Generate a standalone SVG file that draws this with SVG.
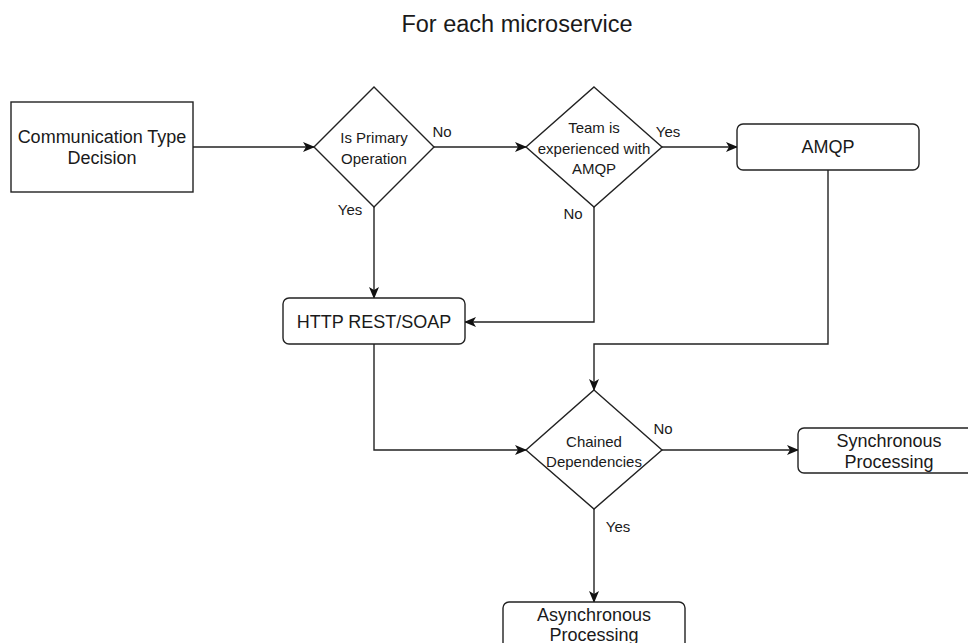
<svg xmlns="http://www.w3.org/2000/svg" width="968" height="643" viewBox="0 0 968 643">
  <defs>
    <marker id="arrow" viewBox="0 0 12 10" refX="11" refY="5" markerWidth="12" markerHeight="10" markerUnits="userSpaceOnUse" orient="auto">
      <path d="M0,0 L12,5 L0,10 L3,5 Z" fill="#111"/>
    </marker>
  </defs>
  <style>
    .shape { fill: #ffffff; stroke: #222; stroke-width: 1.4; }
    .edge { fill: none; stroke: #222; stroke-width: 1.4; marker-end: url(#arrow); }
    text { font-family: "Liberation Sans", Arial, sans-serif; fill: #1a1a1a; text-anchor: middle; }
    .box { font-size: 18px; }
    .dec { font-size: 15px; }
    .lbl { font-size: 15px; }
    .title { font-size: 23.5px; }
  </style>
  <rect width="968" height="643" fill="#ffffff"/>

  <text class="title" x="517" y="32">For each microservice</text>

  <!-- connectors -->
  <g id="connectors">
    <path class="edge" d="M193,147 L314,147"/>
    <path class="edge" d="M434,147 L526,147"/>
    <path class="edge" d="M662,147 L737,147"/>
    <path class="edge" d="M374,207 L374,298"/>
    <path class="edge" d="M594,207 L594,322 L465,322"/>
    <path class="edge" d="M828,170 L828,344 L594,344 L594,390"/>
    <path class="edge" d="M374,344 L374,450 L526,450"/>
    <path class="edge" d="M662,450 L798,450"/>
    <path class="edge" d="M594,509 L594,602"/>
    <text class="lbl" x="442" y="137">No</text>
    <text class="lbl" x="350" y="215">Yes</text>
    <text class="lbl" x="668" y="137">Yes</text>
    <text class="lbl" x="573" y="219">No</text>
    <text class="lbl" x="663" y="434">No</text>
    <text class="lbl" x="618" y="532">Yes</text>
  </g>

  <g id="start">
    <rect class="shape" x="11" y="102" width="182" height="90"/>
    <text class="box" x="102" y="143">Communication Type</text>
    <text class="box" x="102" y="164">Decision</text>
  </g>

  <g id="primary">
    <polygon class="shape" points="374,87 434,147 374,207 314,147"/>
    <text class="dec" x="374" y="143">Is Primary</text>
    <text class="dec" x="374" y="164">Operation</text>
  </g>

  <g id="team">
    <polygon class="shape" points="594,87 662,147 594,207 526,147"/>
    <text class="dec" x="594" y="133">Team is</text>
    <text class="dec" x="594" y="154">experienced with</text>
    <text class="dec" x="594" y="174">AMQP</text>
  </g>

  <g id="amqp">
    <rect class="shape" x="737" y="124" width="182" height="46" rx="6"/>
    <text class="box" x="828" y="153">AMQP</text>
  </g>

  <g id="http">
    <rect class="shape" x="283" y="298" width="182" height="46" rx="6"/>
    <text class="box" x="374" y="328">HTTP REST/SOAP</text>
  </g>

  <g id="chained">
    <polygon class="shape" points="594,390 662,450 594,509 526,450"/>
    <text class="dec" x="594" y="447">Chained</text>
    <text class="dec" x="594" y="467">Dependencies</text>
  </g>

  <g id="sync">
    <rect class="shape" x="798" y="428" width="182" height="45" rx="6"/>
    <text class="box" x="889" y="447">Synchronous</text>
    <text class="box" x="889" y="468">Processing</text>
  </g>

  <g id="async">
    <rect class="shape" x="503" y="602" width="182" height="60" rx="6"/>
    <text class="box" x="594" y="621">Asynchronous</text>
    <text class="box" x="594" y="641">Processing</text>
  </g>
</svg>
